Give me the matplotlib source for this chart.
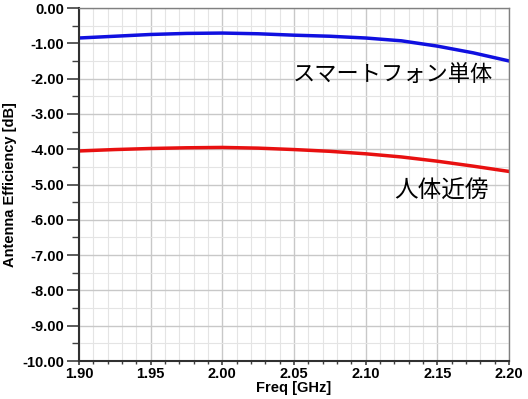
import matplotlib
matplotlib.use("Agg")
import matplotlib.pyplot as plt
from matplotlib.ticker import MultipleLocator, FormatStrFormatter

freq = [1.90, 1.925, 1.95, 1.975, 2.00, 2.025, 2.05, 2.075, 2.10, 2.125, 2.15, 2.175, 2.20]
alone = [-0.85, -0.80, -0.75, -0.72, -0.71, -0.73, -0.77, -0.80, -0.85, -0.93, -1.08, -1.27, -1.50]
body = [-4.05, -4.01, -3.98, -3.96, -3.95, -3.97, -4.01, -4.06, -4.13, -4.22, -4.34, -4.48, -4.63]
label_alone = "スマートフォン単体"
label_body = "人体近傍"

fig = plt.figure(figsize=(5.28, 3.99), dpi=100)
ax = fig.add_axes([79/528, 1 - 361/399, (509-79)/528, (361-8)/399])

ax.plot(freq, alone, color="#1010e0", lw=2.5)
ax.plot(freq, body, color="#e81010", lw=2.5)

ax.set_xlim(1.90, 2.20)
ax.set_ylim(-10, 0)
ax.xaxis.set_major_locator(MultipleLocator(0.05))
ax.xaxis.set_minor_locator(MultipleLocator(0.01))
ax.yaxis.set_major_locator(MultipleLocator(1.0))
ax.yaxis.set_minor_locator(MultipleLocator(0.5))
ax.xaxis.set_major_formatter(FormatStrFormatter("%.2f"))
ax.yaxis.set_major_formatter(FormatStrFormatter("%.2f"))
ax.grid(which="major", color="#c8c8c8", lw=1.0)
ax.grid(which="minor", color="#e4e4e4", lw=0.8)
ax.set_axisbelow(True)

for s in ["top", "right"]:
    ax.spines[s].set_color("#808080")
    ax.spines[s].set_linewidth(1.0)
for s in ["left", "bottom"]:
    ax.spines[s].set_color("#303030")
    ax.spines[s].set_linewidth(1.5)

ax.tick_params(axis="y", which="major", direction="out", length=8.5, width=1.2, colors="#404040", labelcolor="black", pad=2)
ax.tick_params(axis="y", which="minor", direction="out", length=5, width=1.0, colors="#404040")
ax.tick_params(axis="x", which="major", direction="out", length=3, width=1.2, colors="#404040", labelcolor="black", pad=1)
ax.tick_params(axis="x", which="minor", direction="out", length=2.5, width=1.0, colors="#404040")
for lab in ax.get_xticklabels() + ax.get_yticklabels():
    lab.set_fontfamily("Liberation Sans")
    lab.set_fontweight("bold")
    lab.set_fontsize(10.5)

ax.set_xlabel("Freq [GHz]", fontfamily="Liberation Sans", fontweight="bold", fontsize=10.5, labelpad=0)
ax.set_ylabel("Antenna Efficiency [dB]", fontfamily="Liberation Sans", fontweight="bold", fontsize=10.5, labelpad=4)

ax.text(2.189, -1.90, label_alone, fontfamily=["Noto Sans CJK JP", "DejaVu Sans"], fontsize=16, ha="right", va="center")
ax.text(2.186, -5.18, label_body, fontfamily=["Noto Sans CJK JP", "DejaVu Sans"], fontsize=17, ha="right", va="center")

fig.savefig("out.png", dpi=100)
